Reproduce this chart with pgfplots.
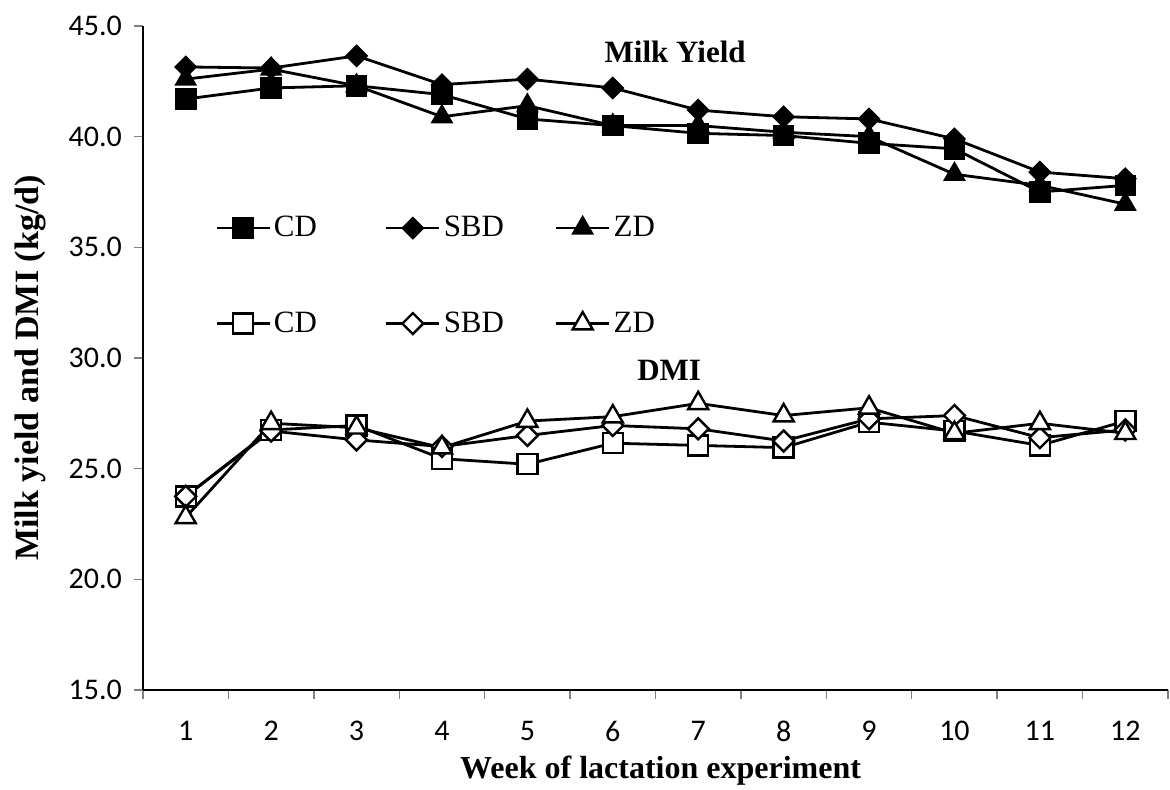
\documentclass[border=0pt]{standalone}
\usepackage{fontspec}
\setmainfont{Liberation Serif}
\newfontfamily\calibri{Carlito}
\usepackage{pgfplots}
\usepackage{pgfplotstable}
\pgfplotsset{compat=1.18}

% milk yield (kg/d) by week
\pgfplotstableread{
week CD    SBD   ZD
1    41.70 43.15 42.60
2    42.20 43.10 43.05
3    42.30 43.65 42.30
4    41.90 42.35 40.90
5    40.80 42.60 41.40
6    40.50 42.20 40.50
7    40.15 41.20 40.50
8    40.05 40.90 40.20
9    39.70 40.80 40.00
10   39.45 39.90 38.30
11   37.50 38.40 37.80
12   37.80 38.10 36.95
}\milk

% dry matter intake (kg/d) by week
\pgfplotstableread{
week CD    SBD   ZD
1    23.75 23.75 22.80
2    26.75 26.70 27.05
3    26.95 26.30 26.85
4    25.45 26.00 25.95
5    25.20 26.50 27.15
6    26.15 26.95 27.35
7    26.05 26.80 27.95
8    25.95 26.25 27.40
9    27.10 27.25 27.75
10   26.70 27.40 26.60
11   26.05 26.40 27.05
12   27.15 26.75 26.60
}\dmi

\begin{document}
\begin{tikzpicture}
\path[use as bounding box] (0,0) rectangle (585pt,395pt);
\begin{axis}[
    at={(71.5pt,50pt)}, anchor=south west,
    scale only axis, width=512.5pt, height=332pt,
    xmin=0.5, xmax=12.5, ymin=15, ymax=45,
    axis x line*=bottom, axis y line*=left,
    axis line style={-, black, line width=0.8pt},
    xtick={1,...,12}, minor xtick={0.5,1.5,...,12.5},
    ytick={15,20,...,45}, minor ytick={15,20,...,45},
    major tick length=0pt, minor tick length=4.5pt,
    tick align=outside,
    minor tick style={black!50, line width=0.7pt},
    /pgf/number format/assume math mode=true,
    ticklabel style={font=\calibri\fontsize{15}{17}\selectfont},
    x tick label style={yshift=-12pt},
    y tick label style={xshift=-7pt, /pgf/number format/.cd, fixed, fixed zerofill, precision=1},
    xlabel={Week of lactation experiment},
    ylabel={Milk yield and DMI (kg/d)},
    xlabel style={font=\bfseries\fontsize{16}{19}\selectfont, at={(axis description cs:0.505,-0.122)}, anchor=center},
    ylabel style={font=\bfseries\fontsize{17}{20}\selectfont, at={(axis description cs:-0.110,0.485)}, anchor=center, rotate=0},
    every axis plot/.append style={black, line width=1.4pt},
    legend columns=3,
    legend cell align=left,
    legend style={at={(axis description cs:0.07,0.72)}, anchor=north west,
        draw=none, fill=none, inner sep=0pt,
        font=\fontsize{15.5}{18}\selectfont,
        row sep=32pt, column sep=0pt,
        nodes={text width=54pt, inner xsep=1.5pt, inner ysep=2pt}},
    legend image code/.code={\draw[mark repeat=2,mark phase=2,#1] plot coordinates {(0pt,0pt) (13.25pt,0pt) (26.5pt,0pt)};},
]
\addplot[mark=square*, mark size=5pt, mark options={solid, fill=black, line width=0.8pt}] table[x=week, y=CD] {\milk};
\addlegendentry{CD}
\addplot[mark=square*, mark size=3.7pt, mark options={solid, fill=black, rotate=45, line width=0.8pt}] table[x=week, y=SBD] {\milk};
\addlegendentry{SBD}
\addplot[mark=triangle*, mark size=5.8pt, mark options={solid, fill=black, line width=0.8pt}] table[x=week, y=ZD] {\milk};
\addlegendentry{ZD}
\addplot[mark=square*, mark size=5pt, mark options={solid, fill=white, line width=1.2pt}] table[x=week, y=CD] {\dmi};
\addlegendentry{CD}
\addplot[mark=square*, mark size=3.7pt, mark options={solid, fill=white, rotate=45, line width=1.2pt}] table[x=week, y=SBD] {\dmi};
\addlegendentry{SBD}
\addplot[mark=triangle*, mark size=5.8pt, mark options={solid, fill=white, line width=1.2pt}] table[x=week, y=ZD] {\dmi};
\addlegendentry{ZD}
\node[font=\bfseries\fontsize{15.5}{18}\selectfont] at (axis cs:6.73,43.83) {Milk Yield};
\node[font=\bfseries\fontsize{15.5}{18}\selectfont] at (axis cs:6.66,29.46) {DMI};
\end{axis}
\end{tikzpicture}
\end{document}
